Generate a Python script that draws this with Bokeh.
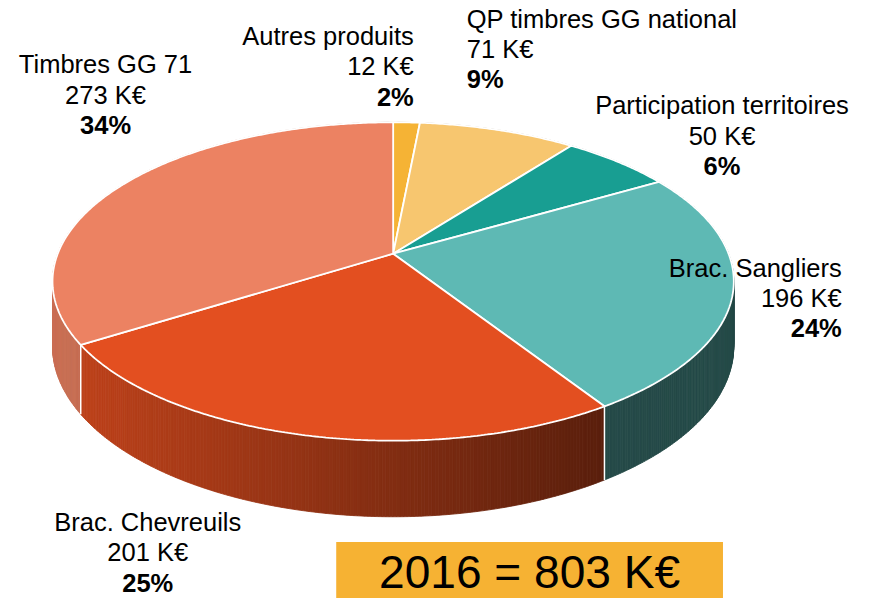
import numpy as np
from bokeh.plotting import figure
from bokeh.models import Range1d, ColumnDataSource
from bokeh.embed import file_html
from bokeh.resources import INLINE
from bokeh.core.properties import value

# ---------------- data ----------------
categories = ["Autres produits", "QP timbres GG national", "Participation territoires",
              "Brac. Sangliers", "Brac. Chevreuils", "Timbres GG 71"]
amounts = [12, 71, 50, 196, 201, 273]          # K€
pct_labels = ["2%", "9%", "6%", "24%", "25%", "34%"]
colors = ["#F5B335", "#F7C66F", "#189E92", "#5EB9B4", "#E34F20", "#EC8262"]
year = 2016

# ---------------- layout (reference pixel space) ----------------
REF_W, REF_H = 871, 614
W, H = 855, 598
sx = W / REF_W

CX, CY = 400.0, 260.0      # pie vertex
A, B = 158.5, 341.7        # vertical / horizontal radius factors
K = 0.1743                 # perspective factor
D = 64.5                   # wall depth

label_pos = [  # x anchor, align, first line bottom
    (421, "right", 51),
    (475, "left", 33),
    (735, "center", 122),
    (857, "right", 289),
    (150, "center", 550),
    (107, "center", 80),
]
LINE_GAP = 31
FONT = "Liberation Sans"
FS = value(f"{26 * sx:.1f}px")


def proj(theta):
    u = np.sin(theta)
    v = np.cos(theta)
    w = 1 + K * v
    return CX + B * u / w, CY - A * v / w, D / w, v


def hex_to_rgb(h):
    h = h.lstrip("#")
    return [int(h[i:i + 2], 16) for i in (0, 2, 4)]


def shade(h, f):
    r, g, b = hex_to_rgb(h)
    return "#%02x%02x%02x" % (int(r * f), int(g * f), int(b * f))


total = sum(amounts)
fr = np.cumsum([0] + amounts) / total
angles = fr * 2 * np.pi

p = figure(width=W, height=H, output_backend="svg", toolbar_location=None,
           x_range=Range1d(0, REF_W), y_range=Range1d(REF_H, 0),
           x_axis_location=None, y_axis_location=None, min_border=0)
p.grid.visible = False
p.outline_line_color = None
p.background_fill_color = "white"
p.border_fill_color = "white"

# ---------------- walls ----------------
strips = []
for i, c in enumerate(colors):
    a0, a1 = angles[i], angles[i + 1]
    n = max(2, int(np.degrees(a1 - a0) * 2))
    th = np.linspace(a0, a1, n + 1)
    x, y, d, v = proj(th)
    for j in range(n):
        xm = 0.5 * (x[j] + x[j + 1])
        f = np.clip(0.86 - 0.46 * (xm - 53) / (612 - 53), 0.40, 0.86)
        strips.append((0.5 * (v[j] + v[j + 1]),
                       [x[j], x[j + 1], x[j + 1], x[j]],
                       [y[j], y[j + 1], y[j + 1] + d[j + 1], y[j] + d[j]],
                       shade(c, f)))
strips.sort(key=lambda s: -s[0])
wall_src = ColumnDataSource(dict(xs=[s[1] for s in strips], ys=[s[2] for s in strips],
                                 c=[s[3] for s in strips]))
p.patches("xs", "ys", source=wall_src, fill_color="c", line_color="c", line_width=0.8)

for a in angles[1:-1]:
    x, y, d, v = proj(np.array([a]))
    if v[0] < -K:
        p.segment(x0=x, y0=y, x1=x, y1=y + d, line_color="white", line_width=1.5)

# ---------------- top faces ----------------
txs, tys = [], []
for i in range(len(amounts)):
    a0, a1 = angles[i], angles[i + 1]
    n = max(2, int(np.degrees(a1 - a0) * 2))
    th = np.linspace(a0, a1, n + 1)
    x, y, d, v = proj(th)
    txs.append([CX] + list(x))
    tys.append([CY] + list(y))
top_src = ColumnDataSource(dict(xs=txs, ys=tys, c=colors))
p.patches("xs", "ys", source=top_src, fill_color="c", line_color="white", line_width=1.8)

# ---------------- labels ----------------
for i, name in enumerate(categories):
    lx, al, by = label_pos[i]
    lines = [name, f"{amounts[i]} K€", pct_labels[i]]
    for j, t in enumerate(lines):
        p.text(x=[lx], y=[by + j * LINE_GAP], text=[t], text_align=al,
               text_baseline="bottom", text_font=value(FONT), text_font_size=FS,
               text_font_style="bold" if j == 2 else "normal", text_color="black")

# ---------------- total box ----------------
p.quad(left=[342], right=[736], top=[556], bottom=[620], fill_color="#F6B233", line_color=None)
p.text(x=[539], y=[613], text=[f"{year} = {total} K€"], text_align="center",
       text_baseline="bottom", text_font=value(FONT),
       text_font_size=value(f"{47 * sx:.1f}px"), text_color="black")

open("out.html", "w").write(file_html(p, INLINE))
